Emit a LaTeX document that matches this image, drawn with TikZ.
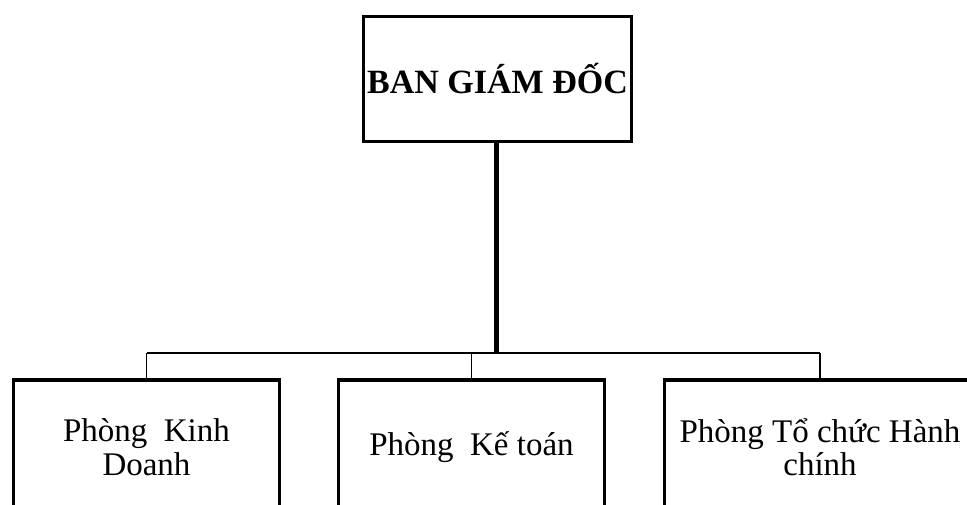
\documentclass[tikz,border=0pt]{standalone}
\usepackage{fontspec}
\setmainfont{Liberation Serif}
\begin{document}
\begin{tikzpicture}[x=1pt,y=-1pt,
  topbox/.style={draw, line width=3.5pt, inner sep=0pt, minimum width=268pt, minimum height=125pt,
    font=\fontsize{34}{36}\selectfont\bfseries},
  unitbox/.style={draw, line width=3.5pt, inner sep=0pt, minimum height=134pt, align=center,
    font=\fontsize{33}{33.5}\selectfont},
  trunk/.style={line width=5pt},
  branch/.style={line width=1.5pt}]
  \useasboundingbox (0,0) rectangle (967,504);
  \clip (0,0) rectangle (967,504);

  % board of directors
  \node[topbox] (gd) at (497.5,79) {BAN GIÁM ĐỐC};

  % departments
  \node[unitbox, minimum width=266pt] (kd) at (146.5,447) {Phòng\ \ Kinh\\Doanh};
  \node[unitbox, minimum width=266pt] (kt) at (471.5,447) {Phòng\ \ Kế toán};
  \node[unitbox, minimum width=311pt] (hc) at (820,447) {Phòng\ Tổ chức\ Hành\\chính};

  % connectors
  \coordinate (bus) at (496,353);
  \draw[trunk] ([xshift=-1.5pt]gd.south) -- ([xshift=-1.5pt]gd.south |- bus);
  \draw[branch] (kd.north |- bus) -- (hc.north |- bus);
  \draw[branch] (kd.north) -- (kd.north |- bus);
  \draw[branch] (kt.north) -- (kt.north |- bus);
  \draw[branch] (hc.north) -- (hc.north |- bus);
\end{tikzpicture}
\end{document}
